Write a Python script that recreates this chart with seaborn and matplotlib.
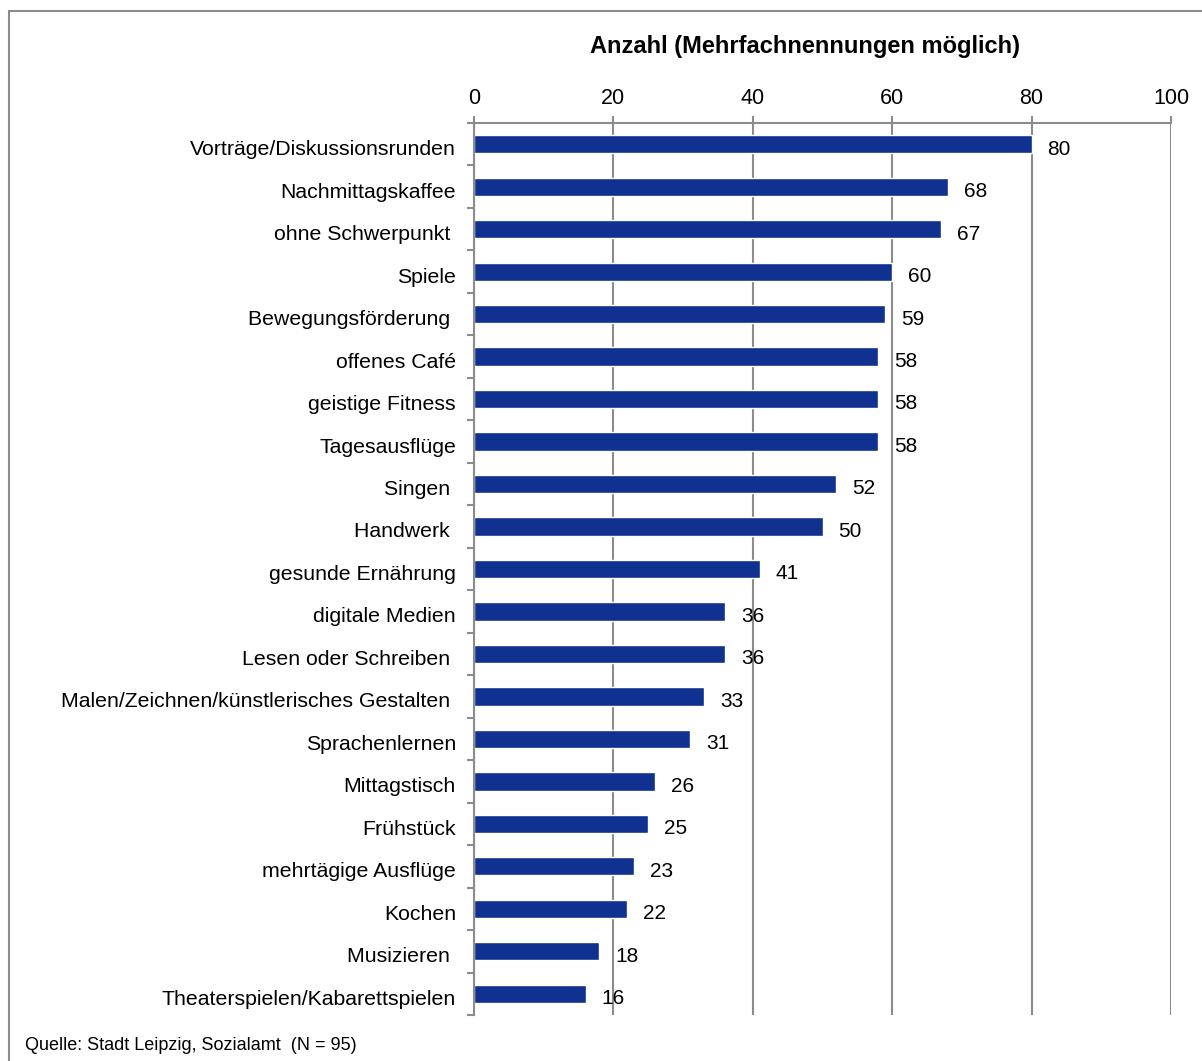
import matplotlib
matplotlib.use("Agg")
import matplotlib.pyplot as plt
from matplotlib.patches import Rectangle
from matplotlib.transforms import ScaledTranslation
import seaborn as sns
import pandas as pd
import numpy as np

categories = [
    "Vorträge/Diskussionsrunden",
    "Nachmittagskaffee",
    "ohne Schwerpunkt ",
    "Spiele",
    "Bewegungsförderung ",
    "offenes Café",
    "geistige Fitness",
    "Tagesausflüge",
    "Singen ",
    "Handwerk ",
    "gesunde Ernährung",
    "digitale Medien",
    "Lesen oder Schreiben ",
    "Malen/Zeichnen/künstlerisches Gestalten ",
    "Sprachenlernen",
    "Mittagstisch",
    "Frühstück",
    "mehrtägige Ausflüge",
    "Kochen",
    "Musizieren ",
    "Theaterspielen/Kabarettspielen",
]
values = [80, 68, 67, 60, 59, 58, 58, 58, 52, 50, 41, 36, 36, 33, 31, 26, 25, 23, 22, 18, 16]
x_ticks = [0, 20, 40, 60, 80, 100]

sns.set_theme(style="white")
plt.rcParams["font.family"] = ["Liberation Sans", "DejaVu Sans"]
plt.rcParams["text.color"] = "black"

df = pd.DataFrame({"Kategorie": categories, "Anzahl": values})

W, H = 1202, 1061
fig = plt.figure(figsize=(W / 100, H / 100), dpi=100)
ax = fig.add_axes([474 / W, 1 - 1015 / H, (1171 - 474) / W, (1015 - 123) / H])

bar_color = "#10318F"
sns.barplot(data=df, x="Anzahl", y="Kategorie", orient="h", color=bar_color,
            width=0.43, saturation=1, ax=ax)

grid_color = "#8C8C8C"
ax.set_xlim(0, 100)
ax.set_ylim(len(categories) - 0.5, -0.5)
ax.xaxis.tick_top()
ax.set_xticks(x_ticks)
ax.set_xticklabels([str(t) for t in x_ticks], fontsize=15.5, color="black")
ax.tick_params(axis="x", which="major", direction="out", length=5, width=1.5,
               color=grid_color, pad=5)
ax.xaxis.grid(True, color=grid_color, linewidth=1.5)
ax.set_axisbelow(True)

ax.set_yticks(range(len(categories)))
ax.set_yticklabels(categories, fontsize=15.3, color="black")
ax.tick_params(axis="y", which="major", length=0, pad=13)
ax.set_yticks(np.arange(-0.5, len(categories), 1.0), minor=True)
ax.tick_params(axis="y", which="minor", direction="out", length=5, width=1.5,
               color=grid_color, left=True)

# nudge category labels slightly downward
shift = ScaledTranslation(0, -2.5 / 72, fig.dpi_scale_trans)
for lbl in ax.get_yticklabels():
    lbl.set_transform(lbl.get_transform() + shift)

for side in ["right", "bottom"]:
    ax.spines[side].set_visible(False)
for side in ["top", "left"]:
    ax.spines[side].set_color(grid_color)
    ax.spines[side].set_linewidth(1.5)

ax.set_xlabel("")
ax.set_ylabel("")

for i, v in enumerate(values):
    ax.annotate(str(v), xy=(v, i), xytext=(11.5, -3.5), textcoords="offset points",
                ha="left", va="center", fontsize=15, color="black")

fig.text(805 / W, 1 - 46 / H, "Anzahl (Mehrfachnennungen möglich)",
         ha="center", va="center", fontsize=17, fontweight="bold", color="black")
fig.text(25 / W, 1 - 1045 / H, "Quelle: Stadt Leipzig, Sozialamt  (N = 95)",
         ha="left", va="center", fontsize=13, color="black")

fig.patches.append(Rectangle((8.5 / W, -0.05), 1.2, 1 - 10.5 / H + 0.05,
                             transform=fig.transFigure, fill=False,
                             edgecolor="#8C8C8C", linewidth=1.5, clip_on=False))

fig.savefig("out.png", dpi=100)
